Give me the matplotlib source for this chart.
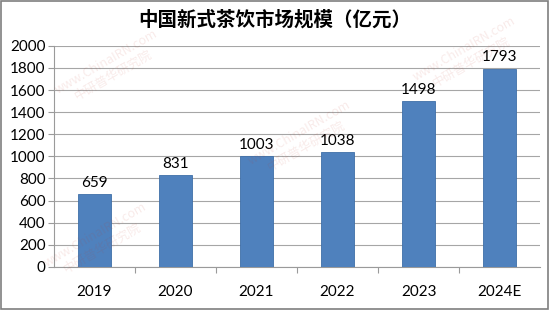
import matplotlib.pyplot as plt
from matplotlib.patches import Rectangle

plt.rcParams['font.family'] = ['Lato', 'Noto Sans CJK SC', 'DejaVu Sans']

years = ['2019', '2020', '2021', '2022', '2023', '2024E']
values = [659, 831, 1003, 1038, 1498, 1793]
yticks = [0, 200, 400, 600, 800, 1000, 1200, 1400, 1600, 1800, 2000]
title = '中国新式茶饮市场规模（亿元）'

fig = plt.figure(figsize=(5.5, 3.1), dpi=100)
ax = fig.add_axes([0.098, 0.139, 0.884, 0.713])

x = range(len(years))
ax.bar(x, values, width=0.4, color='#4F81BD', edgecolor='#3F6FA8', linewidth=0.6, zorder=3)
for i, v in enumerate(values):
    ax.text(i, v + 40, str(v), ha='center', va='bottom', fontsize=11, color='black')

ax.set_xlim(-0.5, len(years) - 0.5)
ax.set_ylim(0, 2000)
ax.set_yticks(yticks)
ax.set_xticks(list(x))
ax.set_xticklabels(years)
ax.set_xticks([i + 0.5 for i in range(len(years) - 1)], minor=True)
ax.tick_params(axis='x', which='major', length=0, pad=13, labelsize=11)
ax.tick_params(axis='x', which='minor', length=4, color='#9a9a9a', width=0.8)
ax.tick_params(axis='y', length=4, color='#9a9a9a', width=0.8, labelsize=11, pad=2)
ax.grid(axis='y', color='#a6a6a6', linewidth=0.8, zorder=0)
for side in ['top', 'right']:
    ax.spines[side].set_visible(False)
ax.spines['left'].set_color('#9a9a9a')
ax.spines['bottom'].set_color('#9a9a9a')

fig.text(0.5, 0.935, title, ha='center', va='center', fontsize=14, weight='bold',
         family=['Noto Sans CJK SC', 'DejaVu Sans'])

# faint watermark
for (wx, wy) in [(0.2, 0.78), (0.55, 0.55), (0.85, 0.82), (0.18, 0.22)]:
    fig.text(wx, wy, 'www.ChinaIRN.com\n中研普华研究院', ha='center', va='center',
             rotation=30, fontsize=9, color='#c0392b', alpha=0.1,
             family=['Noto Sans CJK SC', 'DejaVu Sans'])

fig.patches.append(Rectangle((0.002, 0.003), 0.995, 0.993, transform=fig.transFigure,
                             fill=False, edgecolor='#7f7f7f', linewidth=1.2))

fig.savefig('out.png', dpi=100)
